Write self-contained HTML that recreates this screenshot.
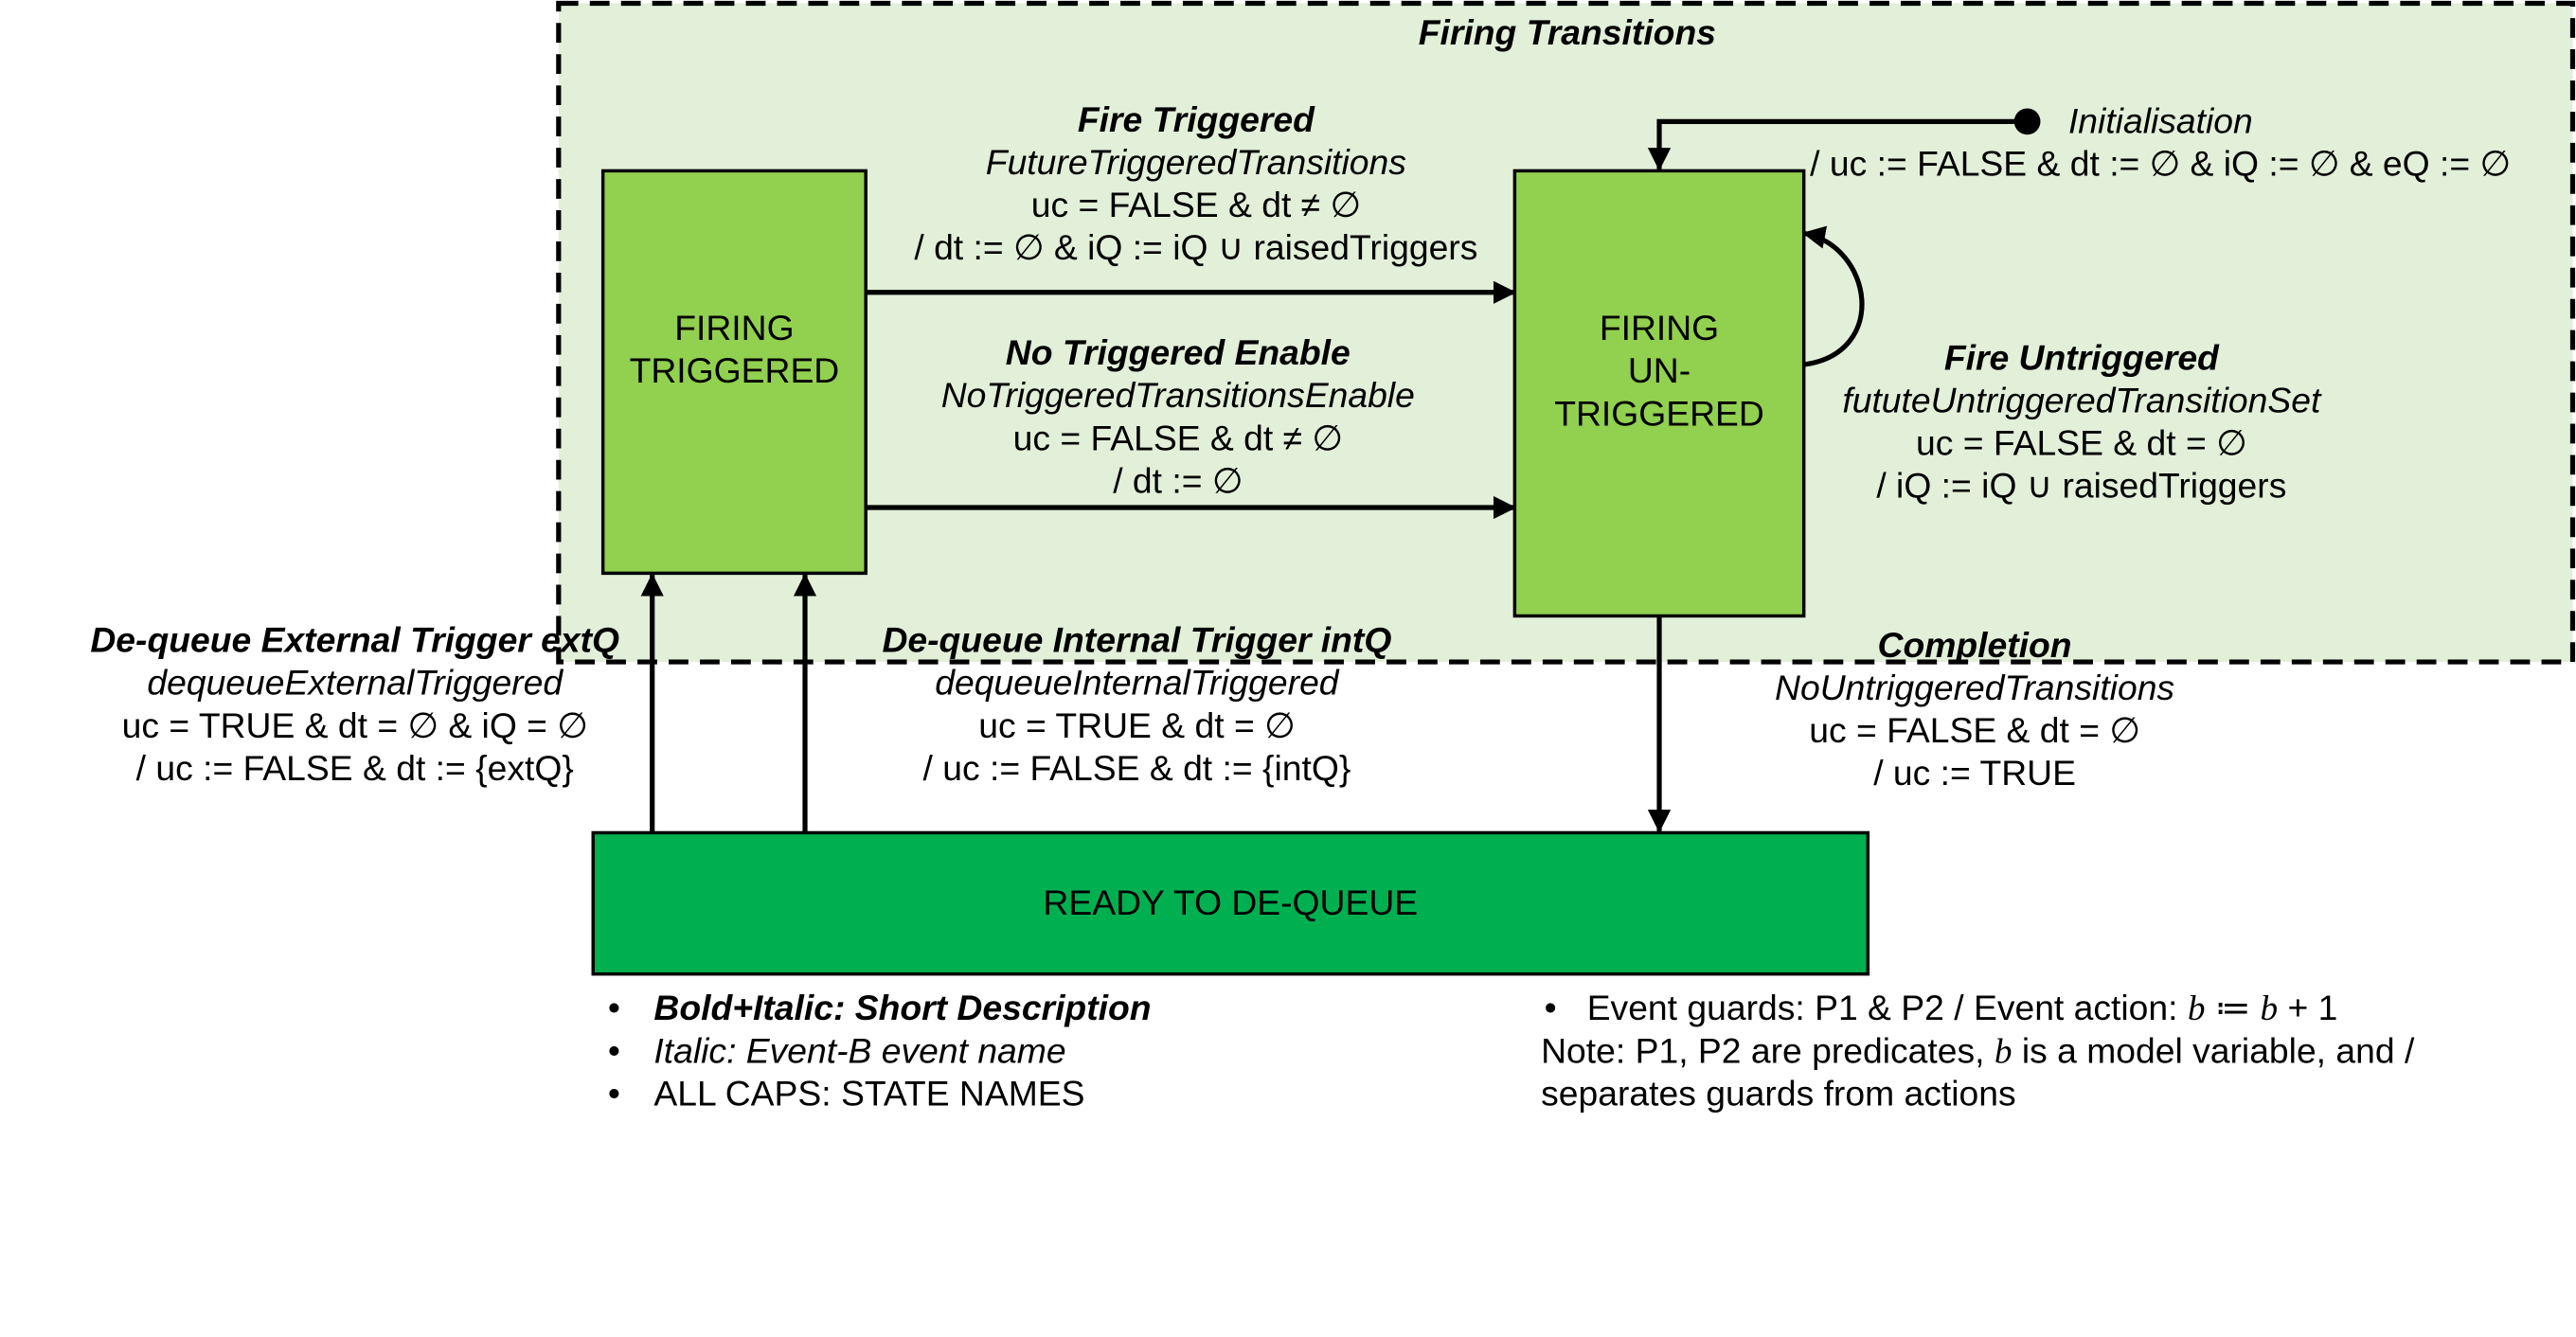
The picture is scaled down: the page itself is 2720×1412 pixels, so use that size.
<!DOCTYPE html>
<html><head><meta charset="utf-8"><style>
html,body{margin:0;padding:0;background:#fff;}
svg{display:block;}
svg text{font-family:"Liberation Sans",Arial,Helvetica,sans-serif;font-size:21.5px;fill:#000;}
.b{font-weight:bold;font-style:italic;}
.i{font-style:italic;}
</style></head><body>
<svg width="2720" height="1412" viewBox="0 0 1568 814" xmlns="http://www.w3.org/2000/svg" font-family="Liberation Sans, Arial, sans-serif">
<defs><marker id="a2" markerWidth="14" markerHeight="14" refX="13" refY="7" orient="auto" markerUnits="userSpaceOnUse"><path d="M0,0 L14,7 L0,14 z" fill="#000"/></marker></defs>
<rect x="0" y="0" width="1568" height="814" fill="#fff"/>
<rect x="340" y="2" width="1226" height="401" fill="#e2efd9" stroke="#000" stroke-width="3" stroke-dasharray="12,7"/>
<text x="954" y="27" text-anchor="middle" class="b">Firing Transitions</text>
<rect x="367" y="104" width="160" height="245" fill="#92d050" stroke="#000" stroke-width="2"/>
<text x="447" y="207" text-anchor="middle">FIRING</text>
<text x="447" y="233" text-anchor="middle">TRIGGERED</text>
<rect x="922" y="104" width="176" height="271" fill="#92d050" stroke="#000" stroke-width="2"/>
<text x="1010" y="207" text-anchor="middle">FIRING</text>
<text x="1010" y="233" text-anchor="middle">UN-</text>
<text x="1010" y="259" text-anchor="middle">TRIGGERED</text>
<rect x="361" y="507" width="776" height="86" fill="#00b050" stroke="#000" stroke-width="2"/>
<text x="749" y="557" text-anchor="middle">READY TO DE-QUEUE</text>
<g stroke="#000" stroke-width="3" fill="none">
<line x1="527" y1="178" x2="922" y2="178" marker-end="url(#a2)"/>
<line x1="527" y1="309" x2="922" y2="309" marker-end="url(#a2)"/>
<polyline points="1234,74 1010,74 1010,103" marker-end="url(#a2)"/>
<path d="M1098,222 C1150,215 1140,150 1098,142" marker-end="url(#a2)"/>
<line x1="397" y1="507" x2="397" y2="350" marker-end="url(#a2)"/>
<line x1="490" y1="507" x2="490" y2="350" marker-end="url(#a2)"/>
<line x1="1010" y1="375" x2="1010" y2="506" marker-end="url(#a2)"/>
</g>
<circle cx="1234" cy="74" r="8" fill="#000"/>
<text x="1259" y="81" class="i">Initialisation</text>
<text x="1315" y="107" text-anchor="middle">/ uc := FALSE &amp; dt := ∅ &amp; iQ := ∅ &amp; eQ := ∅</text>
<g text-anchor="middle">
<text x="728" y="80" class="b">Fire Triggered</text>
<text x="728" y="106" class="i">FutureTriggeredTransitions</text>
<text x="728" y="132">uc = FALSE &amp; dt ≠ ∅</text>
<text x="728" y="158">/ dt := ∅ &amp; iQ := iQ ∪ raisedTriggers</text>
<text x="717" y="222" class="b">No Triggered Enable</text>
<text x="717" y="248" class="i">NoTriggeredTransitionsEnable</text>
<text x="717" y="274">uc = FALSE &amp; dt ≠ ∅</text>
<text x="717" y="300">/  dt := ∅</text>
<text x="1267" y="225" class="b">Fire Untriggered</text>
<text x="1267" y="251" class="i">fututeUntriggeredTransitionSet</text>
<text x="1267" y="277">uc = FALSE &amp; dt = ∅</text>
<text x="1267" y="303">/ iQ := iQ ∪ raisedTriggers</text>
<text x="216" y="397" class="b">De-queue External Trigger extQ</text>
<text x="216" y="423" class="i">dequeueExternalTriggered</text>
<text x="216" y="449">uc = TRUE &amp; dt = ∅ &amp; iQ = ∅</text>
<text x="216" y="475">/ uc := FALSE &amp; dt := {extQ}</text>
<text x="692" y="397" class="b">De-queue Internal Trigger intQ</text>
<text x="692" y="423" class="i">dequeueInternalTriggered</text>
<text x="692" y="449">uc = TRUE &amp; dt = ∅</text>
<text x="692" y="475">/ uc := FALSE &amp; dt := {intQ}</text>
<text x="1202" y="400" class="b">Completion</text>
<text x="1202" y="426" class="i">NoUntriggeredTransitions</text>
<text x="1202" y="452">uc = FALSE &amp; dt = ∅</text>
<text x="1202" y="478">/ uc := TRUE</text>
</g>
<text x="370" y="621">•</text><text x="398" y="621" class="b">Bold+Italic: Short Description</text>
<text x="370" y="647">•</text><text x="398" y="647" class="i">Italic: Event-B event name</text>
<text x="370" y="673">•</text><text x="398" y="673">ALL CAPS: STATE NAMES</text>
<text x="940" y="621">•</text><text x="966" y="621">Event guards: P1 &amp; P2 / Event action: <tspan font-family="Liberation Serif" font-style="italic">b</tspan> ≔ <tspan font-family="Liberation Serif" font-style="italic">b</tspan> + 1</text>
<text x="938" y="647">Note: P1, P2 are predicates, <tspan font-family="Liberation Serif" font-style="italic">b</tspan> is a model variable, and /</text>
<text x="938" y="673">separates guards from actions</text>
</svg>
</body></html>
